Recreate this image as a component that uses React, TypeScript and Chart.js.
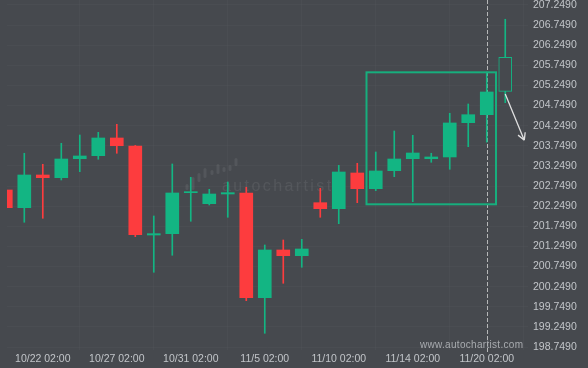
import React, { useEffect, useRef } from "react";
import { Chart, registerables } from "chart.js";

Chart.register(...registerables);

const dates = [
  "10/20 02:00", "10/21 02:00", "10/22 02:00", "10/23 02:00", "10/24 02:00", "10/25 02:00",
  "10/27 02:00", "10/28 02:00", "10/29 02:00", "10/30 02:00", "10/31 02:00", "11/1 02:00",
  "11/2 02:00", "11/3 02:00", "11/5 02:00", "11/6 02:00", "11/7 02:00", "11/8 02:00",
  "11/10 02:00", "11/11 02:00", "11/12 02:00", "11/13 02:00", "11/14 02:00", "11/15 02:00",
  "11/17 02:00", "11/19 02:00", "11/20 02:00", "11/21 02:00",
];
const opens = [
  202.652, 202.212, 203.024, 202.957, 203.429, 203.504, 203.944, 203.745, 201.533, 201.566,
  202.585, 202.311, 202.552, 202.577, 199.975, 201.161, 201.019, 202.336, 202.187, 203.074,
  202.684, 203.131, 203.429, 203.429, 203.472, 204.324, 204.523, 205.104,
];
const highs = [
  202.68, 203.564, 203.29, 203.812, 204.018, 204.085, 204.284, 203.76, 202.006, 203.298,
  202.967, 202.669, 202.85, 202.719, 201.285, 201.409, 201.426, 202.694, 203.265, 203.315,
  203.596, 204.118, 204.011, 203.564, 204.558, 204.789, 205.584, 206.894,
];
const lows = [
  202.19, 201.849, 201.948, 202.9, 203.106, 203.415, 203.564, 201.491, 200.606, 201.029,
  201.874, 202.279, 201.973, 199.901, 199.09, 200.333, 200.731, 201.973, 201.814, 202.336,
  202.634, 202.982, 202.361, 203.34, 203.166, 203.728, 203.84, 204.821,
];
const closes = [
  202.212, 203.024, 202.957, 203.422, 203.497, 203.944, 203.752, 201.541, 201.566, 202.577,
  202.609, 202.552, 202.585, 199.975, 201.161, 201.019, 201.185, 202.187, 203.099, 202.684,
  203.124, 203.422, 203.571, 203.472, 204.317, 204.523, 205.087, 205.949,
];
const priceTicks = [
  198.749, 199.249, 199.749, 200.249, 200.749, 201.249, 201.749, 202.249, 202.749,
  203.249, 203.749, 204.249, 204.749, 205.249, 205.749, 206.249, 206.749, 207.249,
];
const dateTickIndexes = [2, 6, 10, 14, 18, 22, 26];
const hollowIndex = 27;
const currentIndex = 26;
const patternX = [19.5, 26.5];
const patternY = [202.296, 205.576];
const arrowFrom = [27, 205.04];
const arrowTo = [28.03, 203.89];

const BG = "#46494e";
const GREEN = "#13b583";
const RED = "#fd3c3e";
const LABEL = "#c2c5c9";
const FONT = "'Liberation Sans', Arial, sans-serif";

const overlay = {
  id: "overlay",
  beforeDatasetsDraw(chart: any) {
    const { ctx, chartArea, scales } = chart;
    const x = scales.x;
    ctx.save();
    // watermark logo bars
    ctx.fillStyle = "rgba(255,255,255,0.075)";
    const bars = [
      [187, 184, 190], [193, 177, 190], [199, 173, 182], [205, 168, 178], [212, 170, 175],
      [218, 164, 174], [224, 167, 172], [230, 165, 171], [236, 158, 166],
    ];
    bars.forEach(([bx, t, b]) => {
      ctx.beginPath();
      (ctx as any).roundRect(bx - 1.5, t, 3, b - t, 1.5);
      ctx.fill();
    });
    ctx.fillStyle = "rgba(255,255,255,0.075)";
    ctx.font = `16px ${FONT}`;
    (ctx as any).letterSpacing = "2.4px";
    ctx.textBaseline = "alphabetic";
    ctx.textAlign = "left";
    ctx.fillText("autochartist", 222, 191);
    (ctx as any).letterSpacing = "0px";
    // dashed current line
    const cx = Math.round(x.getPixelForValue(currentIndex)) + 0.5;
    ctx.strokeStyle = "rgba(220,220,220,0.75)";
    ctx.lineWidth = 1;
    ctx.setLineDash([4, 2]);
    ctx.beginPath();
    ctx.moveTo(cx, chartArea.top);
    ctx.lineTo(cx, chartArea.bottom + 2);
    ctx.stroke();
    ctx.restore();
  },
  afterDatasetsDraw(chart: any) {
    const { ctx, scales } = chart;
    const x = scales.x;
    const y = scales.y;
    ctx.save();
    // pattern rectangle
    const x0 = x.getPixelForValue(patternX[0]);
    const x1 = x.getPixelForValue(patternX[1]);
    const y0 = y.getPixelForValue(patternY[1]);
    const y1 = y.getPixelForValue(patternY[0]);
    ctx.strokeStyle = "#17ae7d";
    ctx.lineWidth = 2;
    ctx.strokeRect(x0, y0, x1 - x0, y1 - y0);
    // arrow
    const ax = x.getPixelForValue(arrowFrom[0]);
    const ay = y.getPixelForValue(arrowFrom[1]);
    const bx = x.getPixelForValue(arrowTo[0]);
    const by = y.getPixelForValue(arrowTo[1]);
    ctx.strokeStyle = "rgba(240,240,240,0.9)";
    ctx.lineWidth = 1.3;
    ctx.beginPath();
    ctx.moveTo(ax, ay);
    ctx.lineTo(bx, by);
    const ang = Math.atan2(by - ay, bx - ax);
    const len = 8;
    ctx.moveTo(bx, by);
    ctx.lineTo(bx - len * Math.cos(ang - 0.5), by - len * Math.sin(ang - 0.5));
    ctx.moveTo(bx, by);
    ctx.lineTo(bx - len * Math.cos(ang + 0.5), by - len * Math.sin(ang + 0.5));
    ctx.stroke();
    // website text
    ctx.fillStyle = "#a9acb0";
    ctx.font = `10px ${FONT}`;
    (ctx as any).letterSpacing = "0.3px";
    ctx.textAlign = "left";
    ctx.textBaseline = "middle";
    ctx.fillText("www.autochartist.com", 420, 345);
    ctx.restore();
  },
};

export default function App() {
  const ref = useRef<HTMLCanvasElement>(null);
  useEffect(() => {
    const canvas = ref.current!;
    const idx = opens.map((_, i) => i);
    const up = idx.map((i) => closes[i] >= opens[i]);
    const chart = new Chart(canvas, {
      type: "bar",
      data: {
        datasets: [
          {
            label: "body",
            data: idx.map((i) => ({ x: i, y: [opens[i], closes[i]] })) as any,
            backgroundColor: idx.map((i) => (i === hollowIndex ? BG : up[i] ? GREEN : RED)),
            borderColor: idx.map((i) => (up[i] ? GREEN : RED)),
            borderWidth: idx.map((i) => (i === hollowIndex ? 1 : 0)),
            borderSkipped: false,
            barThickness: 13,
            minBarLength: 1,
            grouped: false,
            order: 1,
          },
          {
            label: "wick",
            data: idx.map((i) => ({ x: i, y: [lows[i], highs[i]] })) as any,
            backgroundColor: idx.map((i) => (up[i] ? GREEN : RED)),
            borderWidth: 0,
            barThickness: 1,
            grouped: false,
            order: 2,
          },
        ],
      },
      options: {
        responsive: false,
        animation: false,
        events: [],
        layout: { padding: { left: 7, top: 0, right: 0, bottom: 0 } },
        plugins: { legend: { display: false }, tooltip: { enabled: false } },
        scales: {
          x: {
            type: "linear",
            min: 0.065,
            max: 28.23,
            offset: false,
            afterBuildTicks: (s: any) => {
              s.ticks = dateTickIndexes.map((v) => ({ value: v }));
            },
            afterFit: (s: any) => {
              s.height = 18;
              s.paddingLeft = 0;
              s.paddingRight = 0;
            },
            grid: { color: "rgba(255,255,255,0.025)", drawTicks: false },
            border: { display: false },
            ticks: {
              autoSkip: false,
              maxRotation: 0,
              padding: 3,
              color: LABEL,
              font: { family: FONT, size: 10.5 },
              callback: (v: any) => dates[v] ?? "",
            },
          },
          y: {
            type: "linear",
            position: "right",
            min: 198.675,
            max: 207.373,
            afterBuildTicks: (s: any) => {
              s.ticks = priceTicks.map((v) => ({ value: v }));
            },
            afterFit: (s: any) => {
              s.width = 60;
              s.paddingTop = 0;
              s.paddingBottom = 0;
            },
            grid: { color: "rgba(255,255,255,0.025)", drawTicks: false },
            border: { display: false },
            ticks: {
              autoSkip: false,
              padding: 5,
              color: LABEL,
              font: { family: FONT, size: 10.5 },
              callback: (v: any) => Number(v).toFixed(4),
            },
          },
        },
      },
      plugins: [overlay],
    });
    return () => chart.destroy();
  }, []);
  return (
    <div style={{ position: "fixed", left: 0, top: 0, width: 588, height: 368, background: BG }}>
      <canvas ref={ref} width={588} height={368} style={{ display: "block" }} />
    </div>
  );
}
